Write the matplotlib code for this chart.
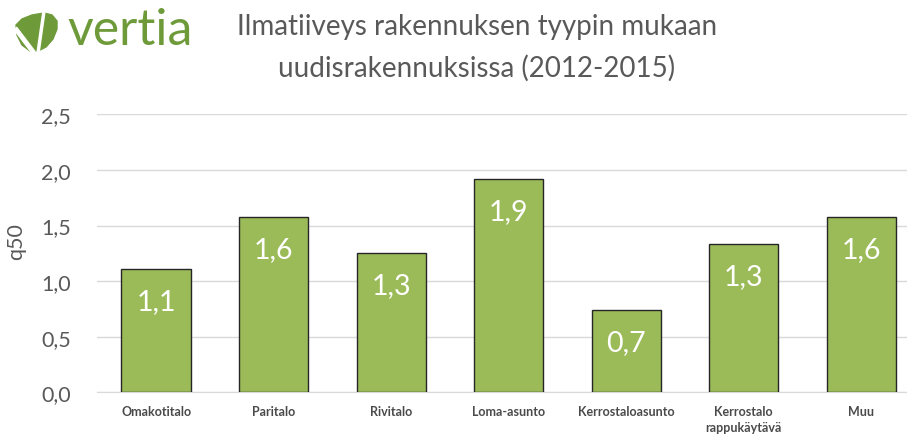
import matplotlib

matplotlib.use("Agg")
import matplotlib.pyplot as plt
from matplotlib.patches import Polygon

plt.rcParams["font.family"] = ["Lato", "DejaVu Sans"]

categories = ["Omakotitalo", "Paritalo", "Rivitalo", "Loma-asunto",
              "Kerrostaloasunto", "Kerrostalo\nrappukäytävä", "Muu"]
q50 = [1.11, 1.58, 1.25, 1.92, 0.74, 1.33, 1.58]
labels = ["1,1", "1,6", "1,3", "1,9", "0,7", "1,3", "1,6"]
yticks = [0.0, 0.5, 1.0, 1.5, 2.0, 2.5]
ytick_labels = ["0,0", "0,5", "1,0", "1,5", "2,0", "2,5"]

W, H = 907, 435
fig = plt.figure(figsize=(W / 100, H / 100), dpi=100)

# plot area in pixels: left 97, right ~920 (cropped), zero line y=393, top y=115
left, right, top, bottom = 97.4, 920.0, 115.3, 393.3
ax = fig.add_axes([left / W, 1 - bottom / H, (right - left) / W, (bottom - top) / H])

x = range(len(categories))
bars = ax.bar(x, q50, width=0.59, color="#9BBB59", edgecolor="#262626",
              linewidth=1.0, zorder=3)
ax.set_xlim(-0.5, 6.5)
ax.set_ylim(0, 2.5)
ax.set_yticks(yticks)
ax.set_yticklabels(ytick_labels)
ax.grid(axis="y", color="#D9D9D9", linewidth=1.0, zorder=0)
for s in ["top", "right", "left"]:
    ax.spines[s].set_visible(False)
ax.spines["bottom"].set_color("#D9D9D9")
ax.tick_params(axis="y", length=0, pad=19, labelsize=15.5, labelcolor="#595959")
ax.tick_params(axis="x", length=0, pad=9)
ax.set_xticks(list(x))
ax.set_xticklabels(categories, fontsize=9, fontweight="bold", color="#4a4a4a",
                   linespacing=1.4)

for b, lab in zip(bars, labels):
    ax.annotate(lab, (b.get_x() + b.get_width() / 2, b.get_height()),
                xytext=(0, -32), textcoords="offset pixels",
                ha="center", va="center", fontsize=20.5, color="white", zorder=4)

fig.text(16 / W, 1 - 242 / H, "q50", rotation=90, ha="center", va="center",
         fontsize=15.5, color="#595959")

# title
fig.text(477 / W, 1 - 35 / H, "Ilmatiiveys rakennuksen tyypin mukaan",
         ha="center", va="baseline", fontsize=20, color="#595959")
fig.text(477 / W, 1 - 77 / H, "uudisrakennuksissa (2012-2015)",
         ha="center", va="baseline", fontsize=20, color="#595959")

# logo
logo = "#6E9A3A"
lax = fig.add_axes([0, 0, 1, 1], facecolor="none")
lax.set_xlim(0, W)
lax.set_ylim(H, 0)
lax.axis("off")
leaf = [(16, 26), (22, 20), (32, 16), (44, 14), (52, 16), (57, 22), (57, 30),
        (53, 40), (46, 48), (38, 52), (30, 52), (22, 46), (17, 36)]
lax.add_patch(Polygon(leaf, closed=True, color=logo))
lax.plot([15, 34], [29, 54], color="white", lw=3.5, solid_capstyle="butt")
lax.plot([44, 38], [12, 54], color="white", lw=2.5, solid_capstyle="butt")
fig.text(67 / W, 1 - 45 / H, "vertia", ha="left", va="baseline",
         fontsize=36, color=logo)

fig.savefig("out.png", dpi=100, facecolor="white")
